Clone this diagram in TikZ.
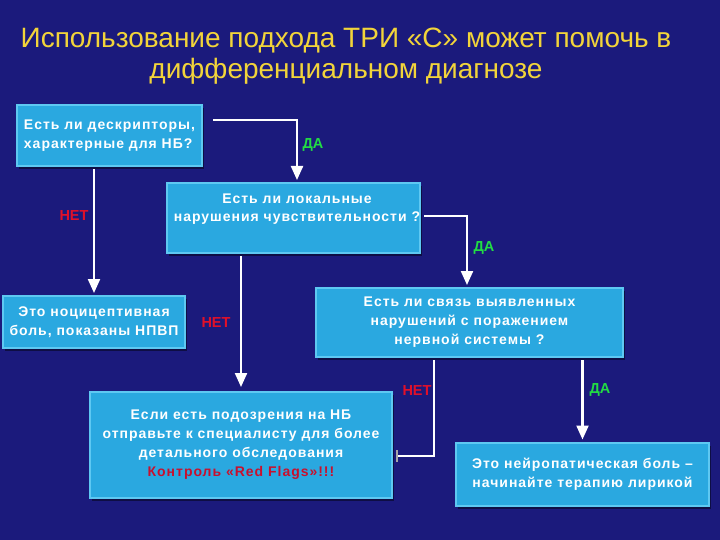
\documentclass[tikz,border=0pt]{standalone}
\usepackage{fontspec}
\setmainfont{Liberation Sans}
\newfontfamily\titlefont{Liberation Sans}
\newfontfamily\boxfont[LetterSpace=7]{Liberation Sans}
\usetikzlibrary{arrows.meta,shadows}
\definecolor{bg}{HTML}{1B1A7C}
\definecolor{boxfill}{HTML}{2AA8E0}
\definecolor{boxrim}{HTML}{5EC8F2}
\definecolor{ttl}{HTML}{F2D43A}
\definecolor{yes}{HTML}{22DD44}
\definecolor{no}{HTML}{E0102A}
\definecolor{flag}{HTML}{C8102E}

\begin{document}
\begin{tikzpicture}[x=1pt,y=-1pt,
  main/.style = {draw=boxrim, line width=2pt, fill=boxfill, inner sep=4pt,
    drop shadow={shadow xshift=2pt, shadow yshift=-3pt, fill=black, opacity=.45},
    text=white, font=\boxfont\bfseries\fontsize{14}{19}\selectfont, align=center},
  qtext/.style = {text=white, font=\boxfont\bfseries\fontsize{14}{18}\selectfont, align=center},
  flow/.style = {draw=white, line width=2.2pt, -{Triangle[width=12pt,length=14pt,fill=white]}},
  yes/.style = {text=yes, font=\bfseries\fontsize{14.5}{16}\selectfont},
  no/.style = {text=no, font=\bfseries\fontsize{14.5}{16}\selectfont}]
\fill[bg] (0,0) rectangle (720,540);
\useasboundingbox (0,0) rectangle (720,540);
\node[text=ttl, font=\titlefont\fontsize{28}{31}\selectfont, align=center] (title) at (346,56)
  {Использование подхода ТРИ «С» может помочь в\\дифференциальном диагнозе};
\node[main, minimum width=185pt, minimum height=61pt, align=left] (desk) at (109.5,136)
  {Есть ли дескрипторы,\\характерные для НБ?};
\node[main, minimum width=253pt, minimum height=70pt] (lok) at (293.5,218) {};
\node[qtext] (loktxt) at (297,209)
  {Есть ли локальные\\нарушения чувствительности ?};
\node[main, minimum width=307pt, minimum height=69pt] (nerv) at (469.5,322.5)
  {Есть ли связь выявленных\\нарушений с поражением\\нервной системы ?};
\node[main, minimum width=182pt, minimum height=52pt] (nocic) at (94,322)
  {Это ноцицептивная\\боль, показаны НПВП};
\node[main, minimum width=302pt, minimum height=106pt] (susp) at (241,445)
  {Если есть подозрения на НБ\\отправьте к специалисту для более\\детального обследования\\
   \textcolor{flag}{Контроль «Red Flags»!!!}};
\node[main, minimum width=253pt, minimum height=63pt] (neuro) at (582.5,474)
  {Это нейропатическая боль –\\начинайте терапию лирикой};
% connectors
\coordinate (a1) at (213,120);
\coordinate (b1) at (424,216);
\coordinate (c1) at (434,360);
\draw[flow, shorten >=2pt] (a1) -| ([xshift=3.5pt]lok.north);
\draw[flow, shorten >=2pt] ([yshift=-2pt]desk.south -| nocic.north) -- (nocic.north);
\draw[flow, shorten >=4pt] ([yshift=-2pt]lok.south -| susp.north) -- (susp.north);
\draw[flow, shorten >=2pt] (b1) -| ([xshift=-2.5pt]nerv.north);
\draw[flow, shorten >=2pt] ([yshift=-2pt]nerv.south -| neuro.north) -- (neuro.north);
\draw[draw=white, line width=2.2pt, -{Bar[width=12pt,line width=2pt,color=gray!70]}, shorten >=3pt]
  (c1) |- ([yshift=-11pt]susp.east);
% labels
\node[yes] (yes1) at (313,145) {ДА};
\node[yes] (yes2) at (484,248) {ДА};
\node[yes] (yes3) at (600,390) {ДА};
\node[no] (no1) at (74,216) {НЕТ};
\node[no] (no2) at (216,323) {НЕТ};
\node[no] (no3) at (417,391) {НЕТ};
\end{tikzpicture}
\end{document}
